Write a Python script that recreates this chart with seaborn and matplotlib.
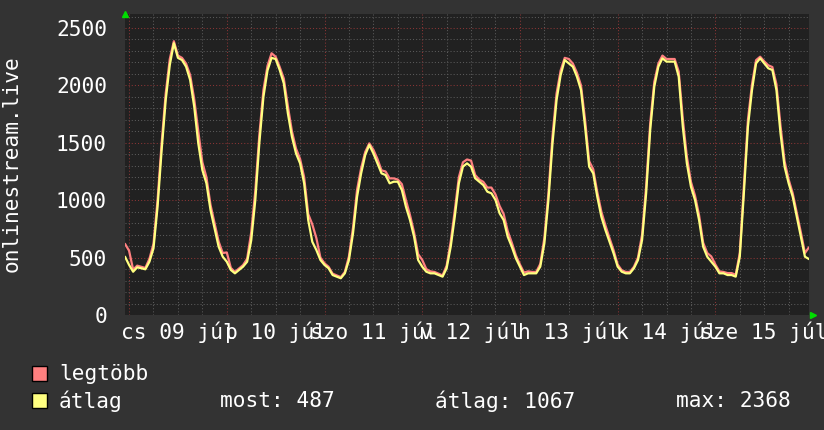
import matplotlib
matplotlib.use("Agg")
import matplotlib.pyplot as plt
import matplotlib.transforms as mtransforms
from matplotlib.patches import Rectangle
import numpy as np
import pandas as pd
import seaborn as sns

# hourly samples, hour 0 = midnight of cs 09 júl
hours = np.arange(-1, 168)

avg_values = [
    508, 436, 377, 415, 407, 398, 464, 581, 943, 1437, 1873, 2178, 2368, 2240, 2221, 2163,
    2047, 1815, 1495, 1263, 1147, 914, 755, 595, 508,
    464, 392, 363, 392, 421, 464, 650, 1000, 1500, 1900, 2130, 2240, 2230, 2134, 2018,
    1757, 1553, 1408, 1321, 1147, 827, 638, 566, 479,
    436, 407, 348, 334, 320, 363, 479, 711, 1030, 1234, 1394, 1481, 1408, 1321, 1234,
    1219, 1147, 1161, 1161, 1089, 943, 827, 682, 479,
    421, 377, 363, 363, 348, 334, 407, 595, 856, 1147, 1292, 1321, 1292, 1191, 1161,
    1132, 1074, 1060, 1002, 886, 827, 682, 595, 494,
    421, 348, 363, 363, 363, 421, 624, 1002, 1495, 1873, 2090, 2221, 2192, 2163, 2076,
    1960, 1640, 1292, 1234, 1030, 856, 740, 638, 537,
    421, 377, 363, 363, 407, 479, 653, 1060, 1611, 1989, 2163, 2236, 2207, 2207, 2207,
    2076, 1640, 1321, 1118, 1002, 827, 595, 508, 464,
    421, 363, 363, 348, 348, 334, 508, 1060, 1640, 1960, 2192, 2236, 2192, 2149, 2134,
    1960, 1583, 1292, 1147, 1030, 856, 682, 508, 487,
]

max_values = [
    620, 560, 395, 430, 420, 410, 490, 620, 1000, 1500, 1930, 2230, 2385, 2260, 2240, 2190,
    2090, 1880, 1600, 1330, 1200, 960, 800, 640, 540,
    545, 410, 375, 405, 435, 490, 720, 1080, 1570, 1960, 2170, 2280, 2250, 2160, 2060,
    1820, 1600, 1450, 1360, 1200, 880, 790, 670, 500,
    450, 420, 360, 345, 330, 375, 510, 760, 1090, 1280, 1420, 1495, 1440, 1360, 1260,
    1250, 1190, 1190, 1180, 1140, 1000, 870, 720, 530,
    480, 400, 380, 375, 360, 345, 430, 640, 910, 1200, 1330, 1355, 1345, 1220, 1180,
    1160, 1110, 1110, 1050, 950, 880, 730, 630, 520,
    440, 370, 380, 375, 375, 445, 670, 1060, 1560, 1930, 2130, 2240, 2230, 2190, 2110,
    2000, 1700, 1340, 1270, 1070, 900, 780, 670, 565,
    440, 390, 375, 375, 420, 500, 700, 1120, 1670, 2030, 2190, 2260, 2230, 2230, 2230,
    2120, 1710, 1380, 1160, 1040, 870, 630, 540, 510,
    440, 380, 375, 365, 365, 350, 540, 1120, 1700, 2010, 2220, 2250, 2210, 2175, 2160,
    2010, 1650, 1340, 1180, 1060, 890, 720, 540, 590,
]

day_labels = ["cs 09 júl", "p 10 júl", "szo 11 júl", "v 12 júl", "h 13 júl", "k 14 júl", "sze 15 júl"]
y_ticks = [0, 500, 1000, 1500, 2000, 2500]
legend_names = ["legtöbb", "átlag"]
stat_texts = ["most: 487", "átlag: 1067", "max: 2368"]

RED = "#ff8080"
YELLOW = "#ffff80"
OUTER_BG = "#333333"
PLOT_BG = "#212121"
MONO = ["DejaVu Sans Mono"]
FS = 15.2

sns.set_style("dark")
plt.rcParams["font.family"] = MONO

df = pd.DataFrame({"hour": hours, "legtöbb": max_values, "átlag": avg_values})

W, H = 824, 430
fig = plt.figure(figsize=(W / 100, H / 100), dpi=100, facecolor=OUTER_BG)
ax = fig.add_axes([125 / W, 115 / H, 684 / W, 301 / H])
ax.set_facecolor(PLOT_BG)

sns.lineplot(data=df, x="hour", y="legtöbb", color=RED, linewidth=1.6, ax=ax, zorder=3)
sns.lineplot(data=df, x="hour", y="átlag", color=YELLOW, linewidth=1.6, ax=ax, zorder=4)

ax.set_xlim(-1, 167)
ax.set_ylim(0, 2622)

ax.set_xticks(np.arange(0, 168, 24))
ax.set_xticks(np.arange(0, 168, 6), minor=True)
ax.set_yticks(y_ticks)
ax.set_yticks(np.arange(0, 2622, 100), minor=True)
ax.set_xticklabels([])
ax.set_yticklabels([str(v) for v in y_ticks], color="white", fontsize=FS, family=MONO)
ax.tick_params(axis="both", which="both", length=0)
ax.tick_params(axis="y", pad=13)

ax.grid(True, which="minor", color="#5a5a5a", linestyle=(0, (1, 2)), linewidth=0.75)
ax.grid(True, which="major", color="#8a3535", linestyle=(0, (1, 2)), linewidth=0.75)
ax.set_axisbelow(True)
for s in ax.spines.values():
    s.set_visible(False)

ax.set_xlabel("")
ax.set_ylabel("")
fig.text(12 / W, 1 - 164 / H, "onlinestream.live", rotation=90, ha="center", va="center",
         color="white", fontsize=FS, family=MONO)

# day labels centred on noon
trans = mtransforms.blended_transform_factory(ax.transData, ax.transAxes)
for i, lab in enumerate(day_labels):
    ax.text(12 + 24 * i, -0.056, lab, transform=trans, ha="center", va="center",
            color="white", fontsize=FS, family=MONO, clip_on=False)

# green axis arrows
ax.plot([0], [1.0], marker="^", color="#00dd00", markersize=5, transform=ax.transAxes, clip_on=False)
ax.plot([1.006], [0], marker=">", color="#00dd00", markersize=5, transform=ax.transAxes, clip_on=False)

# legend area
for j, (name, col) in enumerate(zip(legend_names, [RED, YELLOW])):
    ytop = 366 + 27 * j
    fig.add_artist(Rectangle((32 / W, 1 - (ytop + 15) / H), 15 / W, 15 / H,
                             transform=fig.transFigure, facecolor=col, edgecolor="black", linewidth=1))
    fig.text(59 / W, 1 - (ytop + 8) / H, name, color="white", fontsize=FS, family=MONO, va="center")

for x0, txt in zip([220, 435, 676], stat_texts):
    fig.text(x0 / W, 1 - 401 / H, txt, color="white", fontsize=FS, family=MONO, va="center")

fig.savefig("out.png", dpi=100, facecolor=OUTER_BG)
